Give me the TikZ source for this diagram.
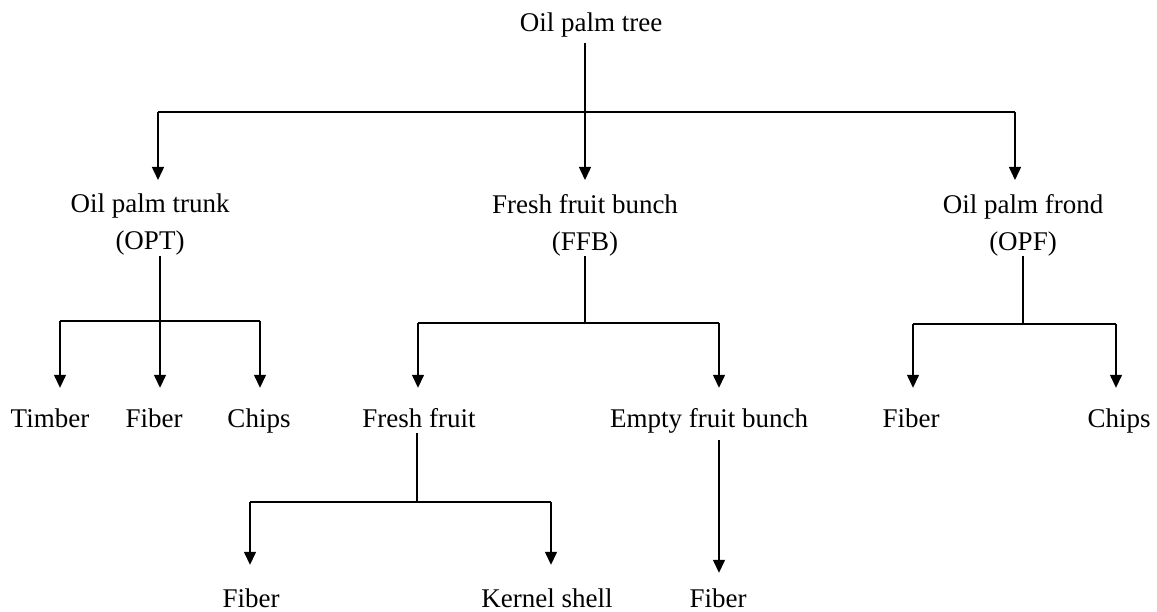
\documentclass[tikz,border=0pt]{standalone}
\usepackage{fontspec}
\setmainfont{Liberation Serif}
\usetikzlibrary{arrows.meta}
\begin{document}
\begin{tikzpicture}[x=1pt,y=-1pt,
  lbl/.style={font=\fontsize{27}{37}\selectfont, inner sep=0pt, text height=19pt, text depth=6pt, anchor=base},
  lbltwo/.style={font=\fontsize{27}{37}\selectfont, inner sep=0pt, align=center, anchor=north},
  conn/.style={line width=1.4pt},
  arr/.style={conn, -{Triangle[width=12pt,length=13pt]}}]
\useasboundingbox (0,0) rectangle (1157,612);

% nodes
\node[lbl] (tree) at (591,32) {Oil palm tree};
\node[lbltwo] (opt) at (150,194) {Oil palm trunk\\(OPT)};
\node[lbltwo] (ffb) at (585,194) {Fresh fruit bunch\\(FFB)};
\node[lbltwo] (opf) at (1023,194) {Oil palm frond\\(OPF)};

\node[lbl] (timber) at (50,427) {Timber};
\node[lbl] (fibA) at (154,427) {Fiber};
\node[lbl] (chipsA) at (259,427) {Chips};
\node[lbl] (ff) at (419,427) {Fresh fruit};
\node[lbl] (efb) at (709,427) {Empty fruit bunch};
\node[lbl] (fibC) at (911,427) {Fiber};
\node[lbl] (chipsC) at (1119,427) {Chips};

\node[lbl] (fibB) at (251,607) {Fiber};
\node[lbl] (kernel) at (547,607) {Kernel shell};
\node[lbl] (fibD) at (718,607) {Fiber};

% junction coordinates
\coordinate (j0) at (585,112);
\coordinate (j0L) at (158,112);
\coordinate (j0R) at (1015,112);
\coordinate (jA) at (160,321);
\coordinate (jAL) at (60,321);
\coordinate (jAR) at (260,321);
\coordinate (jB) at (585,323);
\coordinate (jBL) at (418,323);
\coordinate (jBR) at (719,323);
\coordinate (jC) at (1023,324);
\coordinate (jCL) at (913,324);
\coordinate (jCR) at (1116,324);
\coordinate (jD) at (417,502);
\coordinate (jDL) at (250,502);
\coordinate (jDR) at (551,502);

% level 1
\draw[conn, shorten <=5pt] (tree.south -| j0) -- (j0);
\draw[conn] (j0L) -- (j0R);
\draw[arr, shorten >=14pt] (j0L) -- (opt.north -| j0L);
\draw[arr, shorten >=14pt] (j0) -- (ffb.north -| j0);
\draw[arr, shorten >=14pt] (j0R) -- (opf.north -| j0R);

% OPT
\draw[conn] (opt.south -| jA) -- (jA);
\draw[conn] (jAL) -- (jAR);
\draw[arr, shorten >=20pt] (jAL) -- (timber.north -| jAL);
\draw[arr, shorten >=20pt] (jA) -- (fibA.north -| jA);
\draw[arr, shorten >=20pt] (jAR) -- (chipsA.north -| jAR);

% FFB
\draw[conn] (ffb.south -| jB) -- (jB);
\draw[conn] (jBL) -- (jBR);
\draw[arr, shorten >=20pt] (jBL) -- (ff.north -| jBL);
\draw[arr, shorten >=20pt] (jBR) -- (efb.north -| jBR);

% OPF
\draw[conn] (opf.south -| jC) -- (jC);
\draw[conn] (jCL) -- (jCR);
\draw[arr, shorten >=20pt] (jCL) -- (fibC.north -| jCL);
\draw[arr, shorten >=20pt] (jCR) -- (chipsC.north -| jCR);

% Fresh fruit
\draw[conn] (ff.south -| jD) -- (jD);
\draw[conn] (jDL) -- (jDR);
\draw[arr, shorten >=23pt] (jDL) -- (fibB.north -| jDL);
\draw[arr, shorten >=23pt] (jDR) -- (kernel.north -| jDR);

% EFB
\draw[arr, shorten <=7pt, shorten >=15pt] (efb.south -| jBR) -- (fibD.north -| jBR);
\end{tikzpicture}
\end{document}
